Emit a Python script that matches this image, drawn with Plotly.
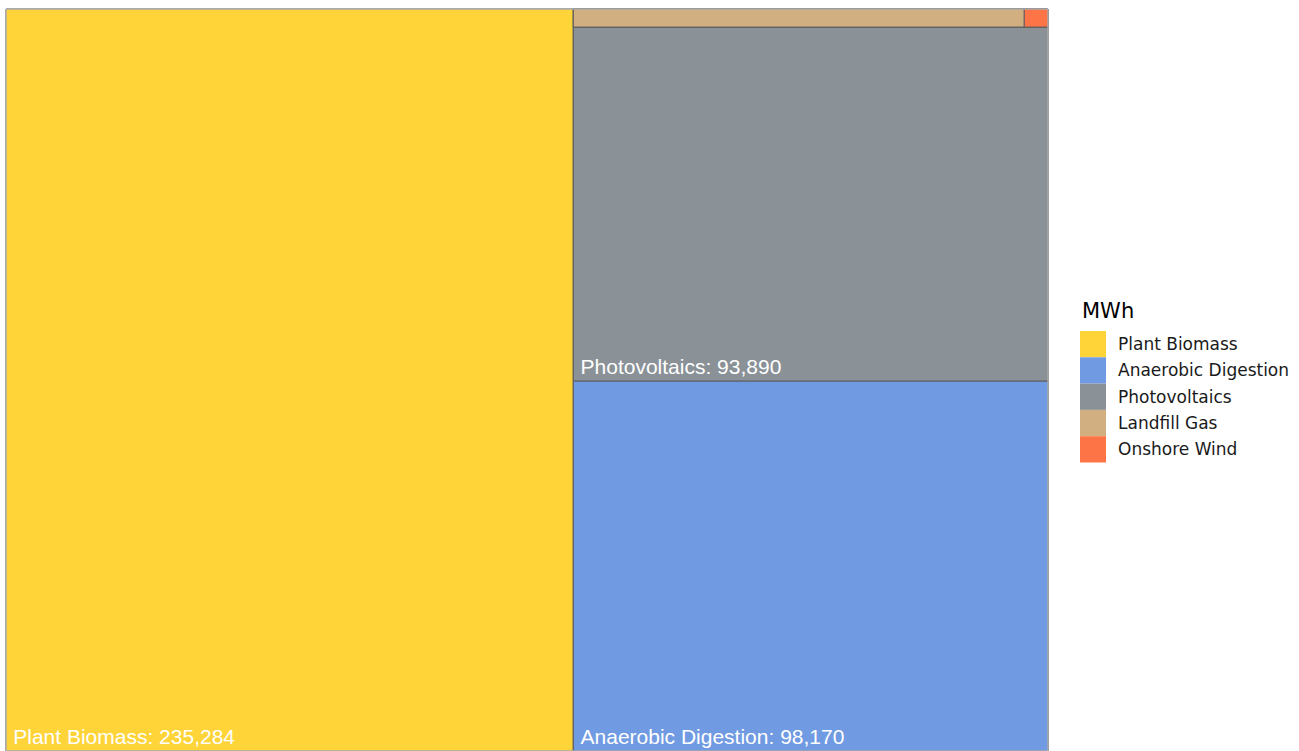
import plotly.graph_objects as go

# Electricity generation by source (MWh)
sources = ["Plant Biomass", "Anaerobic Digestion", "Photovoltaics", "Landfill Gas", "Onshore Wind"]
mwh = [235284, 98170, 93890, 4560, 240]
colors = ["#FED439", "#709AE1", "#8A9197", "#D2AF81", "#FD7446"]

W, H = 1299, 751
margin = dict(l=6, r=251, t=9, b=0)
plot_w = W - margin["l"] - margin["r"]
plot_h = H - margin["t"] - margin["b"]


def px_x(x):
    return (x - margin["l"]) / plot_w


def px_y(y):
    return 1 - (y - margin["t"]) / plot_h


# Grouping used only for tiling: the largest source fills the left column,
# the rest stack in the right column with the two smallest sharing a strip.
total = sum(mwh)
ids = ["all", "rest", "minor"] + sources
parents = ["", "all", "rest", "all", "rest", "rest", "minor", "minor"]
labels = ["", "", ""] + sources
values = [total, sum(mwh[1:]), sum(mwh[3:])] + mwh
tile_colors = ["white", "rgba(0,0,0,0)", "rgba(0,0,0,0)"] + colors
# tiles too small to hold a label stay unlabelled
texts = ["", "", ""] + [
    "\u2009%{label}: %{value:,}" if v / total > 0.05 else "" for v in mwh
]

fig = go.Figure(
    go.Treemap(
        ids=ids,
        labels=labels,
        parents=parents,
        values=values,
        branchvalues="total",
        marker=dict(colors=tile_colors, line=dict(color="#5e5e5e", width=1),
                    pad=dict(t=0, l=0, r=0, b=0)),
        texttemplate=texts,
        textposition="bottom left",
        textfont=dict(family="Liberation Sans, Arial, sans-serif", size=21, color="white"),
        tiling=dict(packing="slice-dice", flip="y", pad=0),
        pathbar=dict(visible=False),
        sort=True,
        hoverinfo="label+value",
    )
)

# light frame around the whole tile area
shapes = [dict(
    type="rect", xref="paper", yref="paper", x0=0, x1=1, y0=0, y1=1,
    line=dict(color="#cfcfcf", width=1), fillcolor="rgba(0,0,0,0)", layer="above",
)]

# Legend: title plus one colour key per source
annotations = [
    dict(
        x=px_x(1080), y=px_y(311), xref="paper", yref="paper",
        text="MWh", showarrow=False, xanchor="left", yanchor="middle",
        font=dict(family="DejaVu Sans", size=21, color="black"),
    )
]
key_size = 26.3
top = 331
for i, (name, col) in enumerate(zip(sources, colors)):
    y0 = top + i * key_size
    shapes.append(dict(
        type="rect", xref="paper", yref="paper",
        x0=px_x(1080), x1=px_x(1106), y0=px_y(y0), y1=px_y(y0 + key_size),
        fillcolor=col, line=dict(width=0),
    ))
    annotations.append(dict(
        x=px_x(1116), y=px_y(y0 + key_size / 2), xref="paper", yref="paper",
        text=name, showarrow=False, xanchor="left", yanchor="middle",
        font=dict(family="DejaVu Sans", size=17, color="#1a1a1a"),
    ))

fig.update_layout(
    width=W, height=H, margin=margin,
    paper_bgcolor="white", plot_bgcolor="white",
    shapes=shapes, annotations=annotations,
    showlegend=False,
)

fig.write_html("out.html")
